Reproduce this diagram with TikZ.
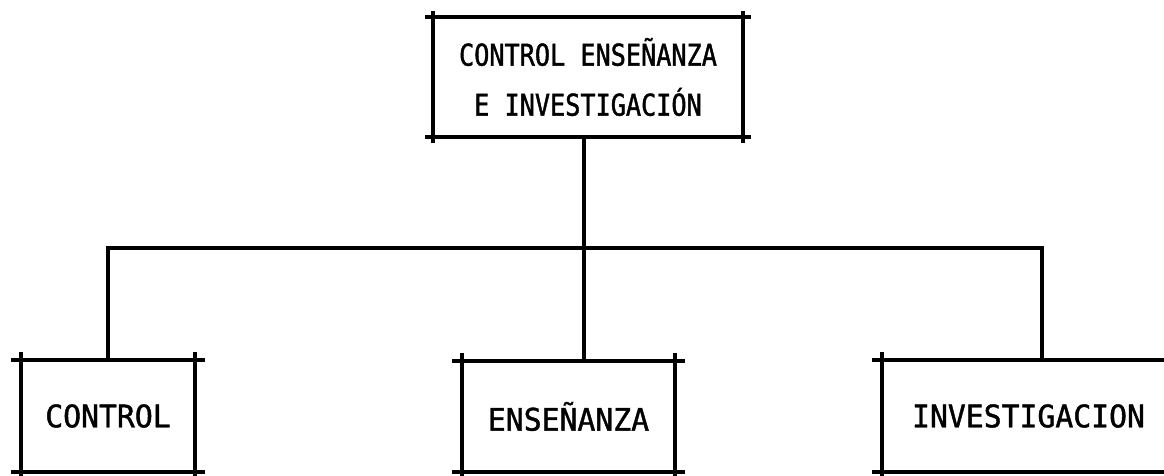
\documentclass[tikz,border=0pt]{standalone}
\usepackage{fontspec}
\newfontfamily\typtop[FakeStretch=0.84,FakeBold=1.3]{DejaVu Sans Mono}
\newfontfamily\typbot[FakeStretch=0.96,FakeBold=1.3]{DejaVu Sans Mono}
\tikzset{
  orgbox/.style={inner sep=0pt, outer sep=0pt, align=center},
  boxline/.style={line width=3.3pt, draw=black},
  connline/.style={line width=3.2pt, draw=black},
}
% draw a box with overshooting corners
\newcommand\sketchbox[3]{% name, x-overshoot, y-overshoot
  \draw[boxline] ([xshift=-#2]#1.north west) -- ([xshift=#2]#1.north east);
  \draw[boxline] ([xshift=-#2]#1.south west) -- ([xshift=#2]#1.south east);
  \draw[boxline] ([yshift=#3]#1.north west) -- ([yshift=-#3]#1.south west);
  \draw[boxline] ([yshift=#3]#1.north east) -- ([yshift=-#3]#1.south east);
}
\begin{document}
\begin{tikzpicture}[x=1pt,y=-1pt]
\useasboundingbox (0,0) rectangle (1164,475);
\clip (0,0) rectangle (1164,475);
\fill[white] (0,0) rectangle (1164,475);

\node[orgbox, minimum width=310pt, minimum height=120pt,
      font=\typtop\fontsize{30}{50}\selectfont] (top) at (588,77)
  {\raisebox{-2pt}{CONTROL ENSEÑANZA}\\\raisebox{-2pt}{E INVESTIGACIÓN}};
\node[orgbox, minimum width=174pt, minimum height=112pt,
      font=\typbot\fontsize{31}{34}\selectfont] (ctl) at (108,416) {CONTROL};
\node[orgbox, minimum width=213pt, minimum height=111pt,
      font=\typbot\fontsize{31}{34}\selectfont] (ens) at (568.5,416.5) {ENSEÑANZA};
\node[orgbox, minimum width=293pt, minimum height=112pt,
      font=\typbot\fontsize{31}{34}\selectfont] (inv) at (1028.5,416) {INVESTIGACION};

\sketchbox{top}{8pt}{6pt}
\sketchbox{ctl}{10pt}{8pt}
\sketchbox{ens}{10pt}{8pt}
\sketchbox{inv}{10pt}{8pt}

\coordinate (jL) at (108,248);
\coordinate (jM) at (584,248);
\coordinate (jR) at (1042,248);

\draw[connline] (top.south -| jM) -- (jM);
\draw[connline] ([xshift=-1.6pt]jL) -- ([xshift=1.6pt]jR);
\draw[connline] (jL) -- (ctl.north -| jL);
\draw[connline] (jM) -- (ens.north -| jM);
\draw[connline] (jR) -- (inv.north -| jR);
\end{tikzpicture}
\end{document}
